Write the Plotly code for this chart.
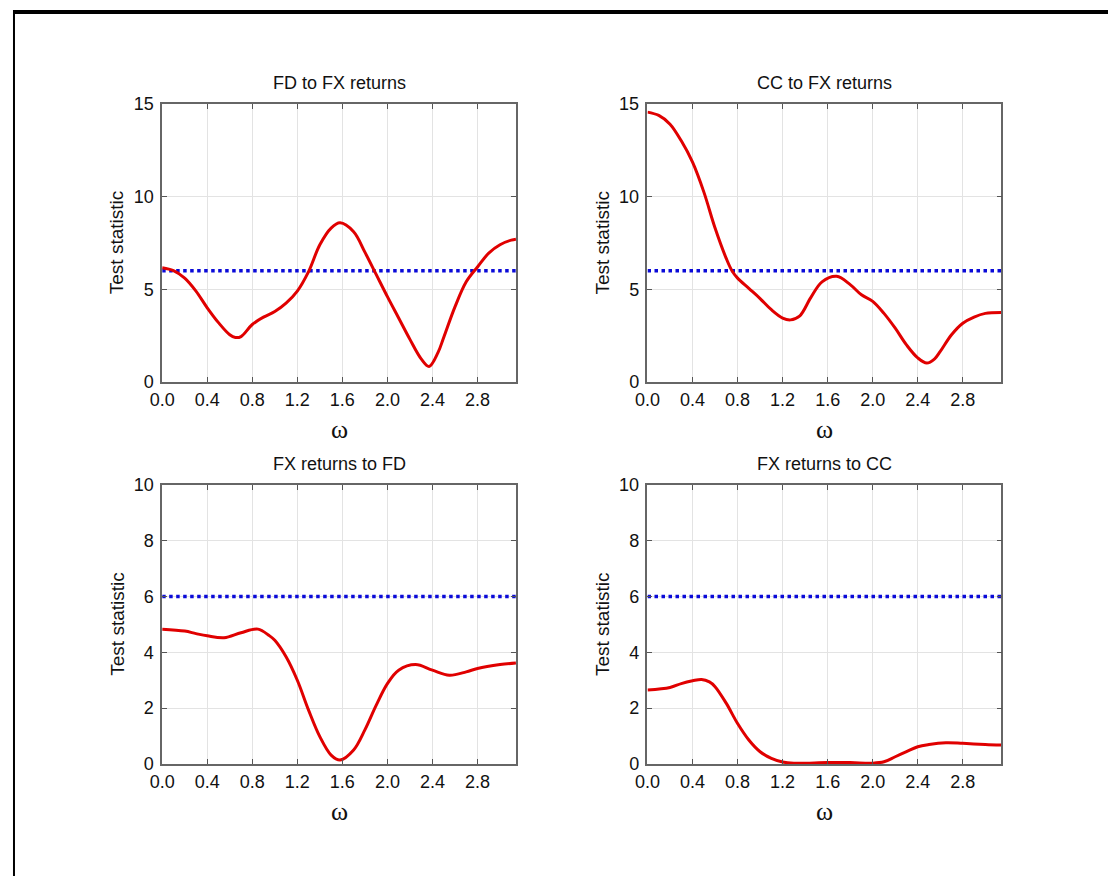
import numpy as np
import plotly.graph_objects as go

PI = float(np.pi)

# ---------------- data ----------------
titles = ["FD to FX returns", "CC to FX returns", "FX returns to FD", "FX returns to CC"]
threshold = 6.0

fd_fx_w = [0, 0.1, 0.2, 0.3, 0.4, 0.5, 0.6, 0.65, 0.7, 0.8, 0.9, 1.0, 1.1, 1.2, 1.3, 1.4, 1.5,
           1.58, 1.7, 1.8, 1.9, 2.0, 2.1, 2.2, 2.3, 2.37, 2.45, 2.5, 2.6, 2.7, 2.8, 2.9, 3.0, 3.1, PI]
fd_fx_v = [6.16, 6.0, 5.6, 4.9, 4.0, 3.2, 2.55, 2.4, 2.45, 3.1, 3.5, 3.8, 4.25, 4.9, 5.95, 7.4, 8.3,
           8.58, 8.1, 7.0, 5.8, 4.6, 3.45, 2.3, 1.25, 0.84, 1.6, 2.4, 4.05, 5.4, 6.2, 6.95, 7.4, 7.65, 7.7]

cc_fx_w = [0, 0.1, 0.2, 0.3, 0.4, 0.5, 0.6, 0.7, 0.75, 0.8, 0.9, 1.0, 1.1, 1.2, 1.27, 1.35, 1.45,
           1.55, 1.68, 1.8, 1.9, 2.0, 2.1, 2.2, 2.3, 2.4, 2.48, 2.55, 2.6, 2.7, 2.8, 2.9, 3.0, PI]
cc_fx_v = [14.55, 14.37, 13.9, 13.0, 11.85, 10.25, 8.3, 6.65, 6.0, 5.6, 5.05, 4.5, 3.9, 3.45, 3.35,
           3.55, 4.55, 5.4, 5.7, 5.25, 4.7, 4.35, 3.7, 2.9, 2.0, 1.3, 1.02, 1.25, 1.65, 2.55, 3.17,
           3.5, 3.7, 3.75]

fx_fd_w = [0, 0.2, 0.3, 0.4, 0.55, 0.7, 0.85, 0.95, 1.0, 1.1, 1.2, 1.3, 1.4, 1.5, 1.58, 1.7, 1.8,
           1.9, 2.0, 2.1, 2.25, 2.4, 2.55, 2.7, 2.8, 3.0, PI]
fx_fd_v = [4.83, 4.76, 4.67, 4.59, 4.52, 4.7, 4.83, 4.6, 4.43, 3.84, 3.0, 1.93, 0.98, 0.32, 0.14,
           0.5, 1.22, 2.1, 2.88, 3.36, 3.56, 3.36, 3.18, 3.3, 3.42, 3.56, 3.62]

fx_cc_w = [0, 0.2, 0.3, 0.4, 0.48, 0.55, 0.6, 0.7, 0.8, 0.9, 1.0, 1.1, 1.2, 1.3, 1.6, 1.8, 2.0,
           2.1, 2.2, 2.3, 2.4, 2.5, 2.65, 2.8, 3.0, PI]
fx_cc_v = [2.65, 2.74, 2.88, 2.98, 3.03, 2.94, 2.77, 2.17, 1.45, 0.86, 0.44, 0.2, 0.07, 0.03, 0.05,
           0.05, 0.03, 0.08, 0.26, 0.44, 0.62, 0.7, 0.76, 0.74, 0.7, 0.68]

y_max = [15, 15, 10, 10]
y_dtick = [5, 5, 2, 2]
x_ticks = [0.0, 0.4, 0.8, 1.2, 1.6, 2.0, 2.4, 2.8]

series = [(fd_fx_w, fd_fx_v), (cc_fx_w, cc_fx_v), (fx_fd_w, fx_fd_v), (fx_cc_w, fx_cc_v)]

# ---------------- layout geometry (pixels) ----------------
W, H = 1108, 886
# calibration of the capture: shown = a*fig + b
AX, BX, AY, BY = 0.9917, 10.3, 0.980, 8.0


def fx(px):
    return min(max((px - BX) / AX / W, 0.0), 1.0)


def fy(py):
    return min(max(1 - (py - BY) / AY / H, 0.0), 1.0)


boxes = [  # target left, right, top, bottom in pixels
    (160, 515, 102, 381),
    (647, 1002, 102, 381),
    (160, 515, 484, 764),
    (647, 1002, 484, 764),
]

fig = go.Figure()
layout = dict(
    width=W, height=H, margin=dict(l=0, r=0, t=0, b=0),
    paper_bgcolor="white", plot_bgcolor="white", showlegend=False,
    font=dict(family="Liberation Sans, Arial, sans-serif", color="#111111"),
)
annotations = []
shapes = []

for i, ((w, v), (l, r, t, b)) in enumerate(zip(series, boxes)):
    k = "" if i == 0 else str(i + 1)
    xa, ya = "x" + k, "y" + k
    fig.add_trace(go.Scatter(x=[0, PI], y=[threshold, threshold], mode="lines",
                             line=dict(color="#0a0ad8", width=3.5, dash="dot"),
                             xaxis=xa, yaxis=ya, hoverinfo="skip"))
    fig.add_trace(go.Scatter(x=w, y=v, mode="lines",
                             line=dict(color="#e00000", width=3, shape="spline", smoothing=1.0),
                             xaxis=xa, yaxis=ya))
    axis_common = dict(showline=True, linecolor="#666666", linewidth=1.5, mirror="ticks",
                       ticks="inside", ticklen=5, tickcolor="#555555", tickwidth=1,
                       showgrid=True, gridcolor="#e3e3e3", gridwidth=1, zeroline=False,
                       tickfont=dict(size=18, color="#111111"))
    layout["xaxis" + k] = dict(axis_common, domain=[fx(l), fx(r)], range=[0, PI],
                               tickvals=x_ticks, tickformat=".1f", anchor=ya, ticklabelstandoff=1)
    layout["yaxis" + k] = dict(axis_common, domain=[fy(b), fy(t)], range=[0, y_max[i]],
                               dtick=y_dtick[i], anchor=xa, ticklabelstandoff=3)
    cx = fx((l + r) / 2)
    annotations.append(dict(text=titles[i], x=cx, y=fy(t - 21), xref="paper", yref="paper",
                            showarrow=False, font=dict(size=18, color="#111111"),
                            xanchor="center", yanchor="middle"))
    annotations.append(dict(text="ω", x=cx, y=fy(b + 48), xref="paper", yref="paper",
                            showarrow=False, font=dict(size=26, family="Liberation Serif, Times New Roman, serif",
                                                       color="#111111"),
                            xanchor="center", yanchor="middle"))
    annotations.append(dict(text="Test statistic", x=fx(l - 45), y=fy((t + b) / 2),
                            xref="paper", yref="paper", showarrow=False, textangle=-90,
                            font=dict(size=19, color="#111111"), xanchor="center", yanchor="middle"))

# page frame: thick top rule and left border
shapes.append(dict(type="rect", xref="paper", yref="paper", x0=0, x1=1, y0=1 - 4 / H, y1=1,
                   fillcolor="black", line=dict(width=0)))
shapes.append(dict(type="line", xref="paper", yref="paper", x0=1 / W, x1=1 / W, y0=0, y1=1,
                   line=dict(color="black", width=2)))

layout["annotations"] = annotations
layout["shapes"] = shapes
fig.update_layout(**layout)
fig.write_html("out.html", config={"displayModeBar": False},
               post_script="document.body.style.margin='0px';document.body.style.overflow='hidden';"
                           "document.documentElement.style.overflow='hidden';")
